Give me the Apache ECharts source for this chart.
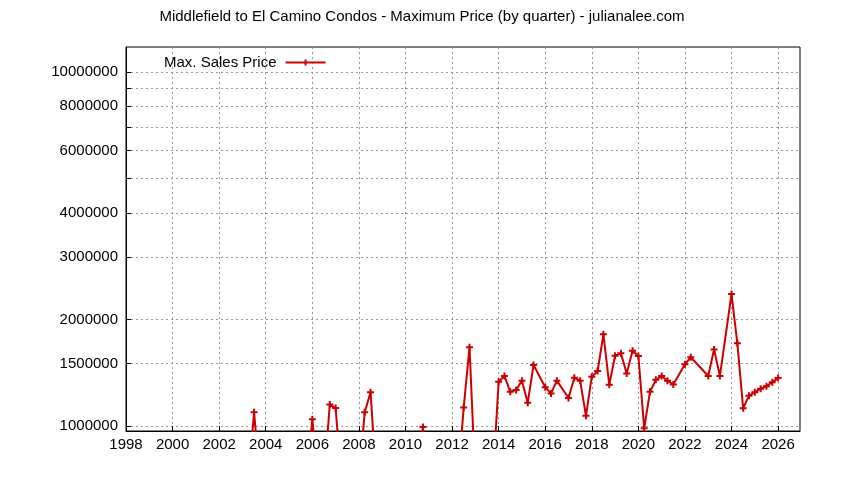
<!DOCTYPE html><html><head><meta charset="utf-8"><script src="https://cdn.jsdelivr.net/npm/echarts@6/dist/echarts.min.js"></script></head><body style="margin:0"><div id="c" style="width:844px;height:480px"></div><script>
const LOW = 700000;
const quarters = [2003.25,2003.5,2003.75,2004,2005.75,2006,2006.25,2006.5,2006.75,2007,2007.25,2008,2008.25,2008.5,2008.75,2009,2010.5,2010.75,2011,2012.25,2012.5,2012.75,2013,2013.5,2013.75,2014,2014.25,2014.5,2014.75,2015,2015.25,2015.5,2016,2016.25,2016.5,2017,2017.25,2017.5,2017.75,2018,2018.25,2018.5,2018.75,2019,2019.25,2019.5,2019.75,2020,2020.25,2020.5,2020.75,2021,2021.25,2021.5,2022,2022.25,2023,2023.25,2023.5,2024,2024.25,2024.5,2024.75,2025,2025.25,2025.5,2025.75,2026];
const prices = [LOW,1093000,LOW,null,LOW,1045000,LOW,LOW,1150000,1124000,LOW,LOW,1093000,1245000,LOW,null,LOW,993000,LOW,LOW,1127000,1670000,LOW,null,LOW,1334000,1384000,1250000,1264000,1343000,1164000,1487000,1286000,1236000,1343000,1200000,1369000,1343000,1069000,1378000,1430000,1816000,1308000,1580000,1604000,1408000,1632000,1577000,985000,1250000,1350000,1384000,1343000,1310000,1494000,1564000,1384000,1646000,1384000,2360000,1712000,1122000,1218000,1245000,1275000,1295000,1330000,1366000];
const yLabels = [1000000,1500000,2000000,3000000,4000000,6000000,8000000,10000000];
const yGrid = [1000000,1500000,2000000,3000000,4000000,5000000,6000000,7000000,8000000,9000000,10000000];
const xLabels = [1998,2000,2002,2004,2006,2008,2010,2012,2014,2016,2018,2020,2022,2024,2026];
const plus = 'path://M0,5L10,5M5,0L5,10';
const legendIcon = 'path://M0,5L40,5M20,2L20,8';
const ch = echarts.init(document.getElementById('c'));
const font = 'Liberation Sans';
ch.setOption({
  animation:false,
  title:{text:'Middlefield to El Camino Condos - Maximum Price (by quarter) - julianalee.com',left:'center',top:4,textStyle:{fontFamily:font,fontSize:15,fontWeight:'normal',color:'#000'}},
  legend:{left:159,top:50,itemWidth:40,itemHeight:8,align:'right',itemGap:4,textStyle:{fontFamily:font,fontSize:15,color:'#000',padding:[0,4,0,0]},
    data:[{name:'Max. Sales Price',icon:legendIcon,itemStyle:{color:'transparent',borderColor:'#cc0000',borderWidth:2}}]},
  grid:{left:126,right:44,top:47,bottom:49,show:true,borderColor:'#000',borderWidth:1},
  xAxis:{type:'value',min:1998,max:2026.94,
    axisLine:{lineStyle:{color:'#000'}},
    axisTick:{inside:true,customValues:xLabels,lineStyle:{color:'#000'}},
    axisLabel:{customValues:xLabels,color:'#000',fontFamily:font,fontSize:15,margin:6,formatter:v=>String(Math.round(v))},
    splitLine:{show:true,lineStyle:{type:[2,3],color:'#999'}}},
  yAxis:{type:'log',min:968000,max:11770000,
    axisLine:{lineStyle:{color:'#000'}},
    axisTick:{inside:true,customValues:yGrid,lineStyle:{color:'#000'}},
    axisLabel:{customValues:yLabels,color:'#000',fontFamily:font,fontSize:15,margin:8,formatter:v=>String(Math.round(v))},
    splitLine:{show:true,lineStyle:{type:[2,3],color:'#999'}}},
  series:[{name:'Max. Sales Price',type:'line',clip:true,connectNulls:false,
    data:quarters.map((q,i)=>[q,prices[i]]),
    symbol:plus,symbolSize:7,showAllSymbol:true,
    itemStyle:{color:'transparent',borderColor:'#cc0000',borderWidth:2},
    lineStyle:{color:'#cc0000',width:2}}]
});
</script></body></html>
